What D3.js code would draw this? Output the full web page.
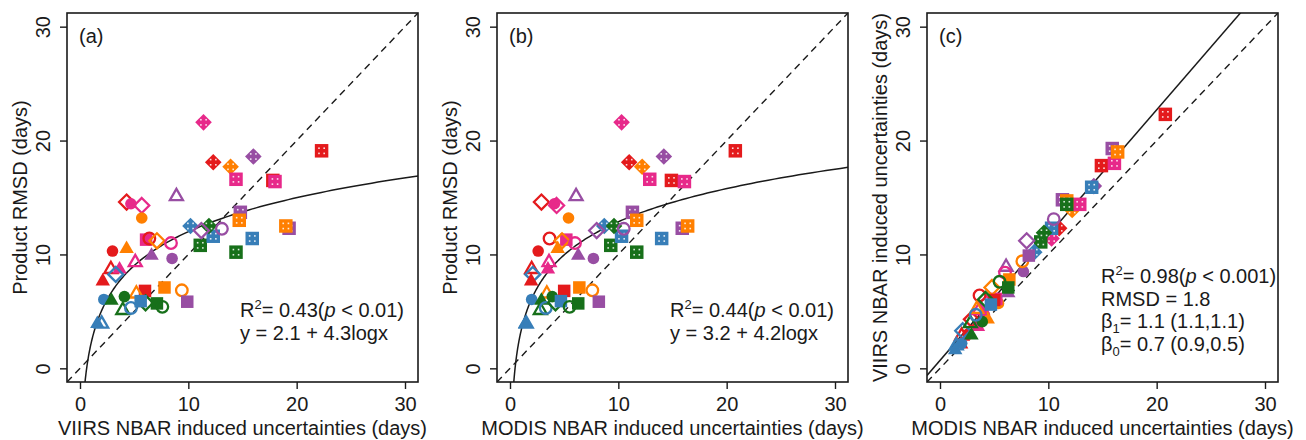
<!DOCTYPE html>
<html>
<head>
<meta charset="utf-8">
<script src="https://cdn.jsdelivr.net/npm/d3@7"></script>
<style>
  html, body { margin: 0; padding: 0; background: #fff; }
  svg { display: block; font-family: "Liberation Sans", Arial, sans-serif; }
</style>
</head>
<body>
<svg id="viz" width="1306" height="440"></svg>
<script>
// site colour / symbol per point, and the three uncertainty values (days)
const siteColor = ["pink","red","orange","purple","pink","red","pink","red","purple","orange",
  "blue","purple","orange","green","green","blue","blue","green","purple","purple",
  "purple","red","pink","pink","orange","pink","red","orange","pink","red",
  "orange","purple","purple","red","pink","pink","blue","red","red","orange",
  "orange","orange","purple","blue","green","green","green","blue","green","blue",
  "green","green","blue","blue"];
const siteShape = ["dotDiamond","dotDiamond","dotDiamond","dotDiamond","dotSquare","dotSquare","dotSquare","dotSquare","dotSquare","dotSquare",
  "dotSquare","dotSquare","dotSquare","dotSquare","dotSquare","dotSquare","dotDiamond","dotDiamond","openDiamond","openCircle",
  "openTriangle","openDiamond","circle","openDiamond","circle","square","openCircle","openDiamond","openCircle","circle",
  "triangle","triangle","circle","openTriangle","triangle","openTriangle","openDiamond","triangle","square","openTriangle",
  "square","openCircle","square","circle","triangle","circle","openTriangle","openCircle","openDiamond","square",
  "square","openCircle","triangle","openTriangle"];
const viirsU = [11.4,12.3,13.9,16.0,14.4,17.8,18.0,22.3,19.3,19.0,
  15.9,14.8,14.7,14.4,11.1,12.3,10.2,11.9,11.2,13.1,
  8.9,4.3,4.7,5.7,5.7,6.1,6.4,7.1,8.4,3.0,
  4.3,6.6,8.5,2.85,3.65,5.1,3.3,2.1,6.0,5.2,
  7.8,9.4,9.9,2.2,2.9,4.1,3.95,4.7,6.05,5.6,
  7.1,7.6,1.6,2.0];
const modisU = [10.3,11.0,12.2,14.2,12.9,14.9,16.1,20.8,15.9,16.4,
  14.0,11.3,11.7,11.7,9.3,10.3,8.7,9.6,8.0,10.5,
  6.1,2.9,4.1,4.3,5.4,5.2,3.65,4.8,6.0,2.6,
  4.4,6.3,7.7,2.0,3.5,3.6,2.1,1.95,5.0,3.4,
  6.4,7.6,8.2,2.0,2.9,3.9,2.8,3.3,4.2,4.7,
  6.3,5.5,1.4,1.5];
const productRMSD = [21.6,18.1,17.7,18.6,16.6,16.5,16.4,19.1,12.3,12.5,
  11.4,13.7,13.0,10.2,10.8,11.6,12.5,12.5,12.1,12.25,
  15.1,14.6,14.45,14.3,13.2,11.3,11.4,11.2,11.0,10.3,
  10.5,9.9,9.65,8.7,8.7,9.3,8.25,7.65,6.8,6.55,
  7.1,6.85,5.85,6.05,5.95,6.3,5.1,5.3,5.75,5.9,
  5.7,5.4,3.9,3.9];

const axisTicks = [0, 10, 20, 30];
const fitA = { a: 2.1, b: 4.3 };   // y = a + b*log(x)
const fitB = { a: 3.2, b: 4.2 };
const fitC = { b0: 0.7, b1: 1.1 }; // y = b0 + b1*x

const palette = {
  red: "#e41a1c", orange: "#ff7f00", pink: "#e7298a",
  purple: "#984ea3", blue: "#377eb8", green: "#17701a"
};

const points = siteColor.map((c, i) => ({
  color: palette[c], shape: siteShape[i],
  viirs: viirsU[i], modis: modisU[i], rmsd: productRMSD[i]
}));

const svg = d3.select("#viz");
const FONT = 20;
const ink = "#1a1a1a";

const panels = [
  { id: "a", left: 67, xLab: "VIIRS NBAR induced uncertainties (days)", yLab: "Product RMSD (days)",
    px: d => d.viirs, py: d => d.rmsd },
  { id: "b", left: 497, xLab: "MODIS NBAR induced uncertainties (days)", yLab: "Product RMSD (days)",
    px: d => d.modis, py: d => d.rmsd },
  { id: "c", left: 927, xLab: "MODIS NBAR induced uncertainties (days)", yLab: "VIIRS NBAR induced uncertainties (days)",
    px: d => d.modis, py: d => d.viirs }
];
const plotTop = 13, plotBottom = 382, boxW = 351;

function drawSymbol(g, shape, cx, cy, color) {
  const sw = 2.3;
  if (shape === "square" || shape === "dotSquare") {
    const s = shape === "square" ? 12.5 : 13.5;
    g.append("rect").attr("x", cx - s / 2).attr("y", cy - s / 2)
      .attr("width", s).attr("height", s).attr("fill", color);
  } else if (shape === "dotDiamond") {
    const h = 8.3;
    g.append("path").attr("d", `M${cx},${cy - h}L${cx + h},${cy}L${cx},${cy + h}L${cx - h},${cy}Z`)
      .attr("fill", color);
  } else if (shape === "openDiamond") {
    const h = 7.5;
    g.append("path").attr("d", `M${cx},${cy - h}L${cx + h},${cy}L${cx},${cy + h}L${cx - h},${cy}Z`)
      .attr("fill", "none").attr("stroke", color).attr("stroke-width", sw);
  } else if (shape === "circle" || shape === "openCircle") {
    const c = g.append("circle").attr("cx", cx).attr("cy", cy).attr("r", 5.8);
    if (shape === "circle") c.attr("fill", color);
    else c.attr("fill", "none").attr("stroke", color).attr("stroke-width", sw);
  } else if (shape === "triangle" || shape === "openTriangle") {
    const s = shape === "triangle" ? 14.5 : 13;
    const hh = s * Math.sqrt(3) / 2;
    const p = g.append("path")
      .attr("d", `M${cx},${cy - hh * 2 / 3}L${cx + s / 2},${cy + hh / 3}L${cx - s / 2},${cy + hh / 3}Z`);
    if (shape === "triangle") p.attr("fill", color);
    else p.attr("fill", "none").attr("stroke", color).attr("stroke-width", sw).attr("stroke-linejoin", "miter");
  }
  if (shape === "dotSquare" || shape === "dotDiamond") {
    [[-2.6, -2.6], [2.6, -2.6], [-2.6, 2.6], [2.6, 2.6]].forEach(o => {
      g.append("rect").attr("x", cx + o[0] - 0.8).attr("y", cy + o[1] - 0.8)
        .attr("width", 1.6).attr("height", 1.6).attr("fill", "#fff").attr("opacity", 0.85);
    });
  }
}

panels.forEach(p => {
  const x = d3.scaleLinear().domain([-1.2, 31.2]).range([p.left, p.left + boxW]);
  const y = d3.scaleLinear().domain([-1.2, 31.2]).range([plotBottom, plotTop]);
  const g = svg.append("g");

  g.append("clipPath").attr("id", "clip-" + p.id)
    .append("rect").attr("x", p.left).attr("y", plotTop).attr("width", boxW).attr("height", plotBottom - plotTop);

  const lines = g.append("g").attr("clip-path", `url(#clip-${p.id})`);

  // 1:1 line
  lines.append("line")
    .attr("x1", x(-1.2)).attr("y1", y(-1.2)).attr("x2", x(31.2)).attr("y2", y(31.2))
    .attr("stroke", ink).attr("stroke-width", 1.4).attr("stroke-dasharray", "7,5");

  // fitted line
  let fitPts;
  if (p.id === "c") {
    fitPts = [-1.2, 31.2].map(v => [v, fitC.b0 + fitC.b1 * v]);
  } else {
    const f = p.id === "a" ? fitA : fitB;
    const x0 = Math.exp((-1.2 - f.a) / f.b);
    fitPts = d3.range(0, 201).map(i => {
      const v = x0 * Math.pow(31.2 / x0, i / 200);
      return [v, f.a + f.b * Math.log(v)];
    });
  }
  lines.append("path")
    .attr("d", d3.line().x(d => x(d[0])).y(d => y(d[1]))(fitPts))
    .attr("fill", "none").attr("stroke", ink).attr("stroke-width", 1.5);

  // points
  const pg = g.append("g");
  points.forEach(d => drawSymbol(pg, d.shape, x(p.px(d)), y(p.py(d)), d.color));

  // box
  g.append("rect").attr("x", p.left).attr("y", plotTop).attr("width", boxW).attr("height", plotBottom - plotTop)
    .attr("fill", "none").attr("stroke", ink).attr("stroke-width", 1.6);

  // x axis
  const xa = g.append("g").attr("transform", `translate(0,${plotBottom})`)
    .call(d3.axisBottom(x).tickValues(axisTicks).tickSize(7).tickSizeOuter(0).tickPadding(7.5));
  xa.select(".domain").remove();
  xa.selectAll("line").attr("stroke", ink).attr("stroke-width", 1.4);
  xa.selectAll("text").attr("font-size", FONT).attr("fill", ink).attr("font-family", null);

  // y axis, labels rotated as in R
  const ya = g.append("g").attr("transform", `translate(${p.left},0)`)
    .call(d3.axisLeft(y).tickValues(axisTicks).tickSize(7).tickSizeOuter(0));
  ya.select(".domain").remove();
  ya.selectAll("line").attr("stroke", ink).attr("stroke-width", 1.4);
  ya.selectAll("text").attr("font-size", FONT).attr("fill", ink).attr("font-family", null)
    .attr("x", 0).attr("dy", null).attr("text-anchor", "middle")
    .attr("transform", "translate(-17,0) rotate(-90)");

  // axis titles
  g.append("text").attr("x", p.left + boxW / 2).attr("y", 435)
    .attr("text-anchor", "middle").attr("font-size", FONT).attr("fill", ink).text(p.xLab);
  g.append("text").attr("transform", `translate(${p.left - 40},${(plotTop + plotBottom) / 2}) rotate(-90)`)
    .attr("text-anchor", "middle").attr("font-size", FONT).attr("fill", ink).text(p.yLab);

  // panel tag
  g.append("text").attr("x", p.left + 12).attr("y", 43).attr("font-size", FONT).attr("fill", ink)
    .text(`(${p.id})`);
});

// annotations
function r2Line(x, y, r2, pv) {
  const t = svg.append("text").attr("x", x).attr("y", y).attr("font-size", FONT).attr("fill", ink);
  t.append("tspan").text("R");
  t.append("tspan").attr("font-size", 13).attr("dy", -8).text("2");
  t.append("tspan").attr("dy", 8).text(`= ${r2}(`);
  t.append("tspan").attr("font-style", "italic").text("p");
  t.append("tspan").text(` < ${pv})`);
}
function plainLine(x, y, s) {
  svg.append("text").attr("x", x).attr("y", y).attr("font-size", FONT).attr("fill", ink).text(s);
}
function betaLine(x, y, sub, s) {
  const t = svg.append("text").attr("x", x).attr("y", y).attr("font-size", FONT).attr("fill", ink);
  t.append("tspan").text("β");
  t.append("tspan").attr("font-size", 13).attr("dy", 5).text(sub);
  t.append("tspan").attr("dy", -5).text(s);
}

r2Line(240, 317, "0.43", "0.01");
plainLine(240, 340, `y = ${fitA.a} + ${fitA.b}logx`);
r2Line(670, 317, "0.44", "0.01");
plainLine(670, 340, `y = ${fitB.a} + ${fitB.b}logx`);
r2Line(1101, 283, "0.98", "0.001");
plainLine(1101, 305.5, "RMSD = 1.8");
betaLine(1101, 328, "1", `= ${fitC.b1} (1.1,1.1)`);
betaLine(1101, 351, "0", `= ${fitC.b0} (0.9,0.5)`);
</script>
</body>
</html>
